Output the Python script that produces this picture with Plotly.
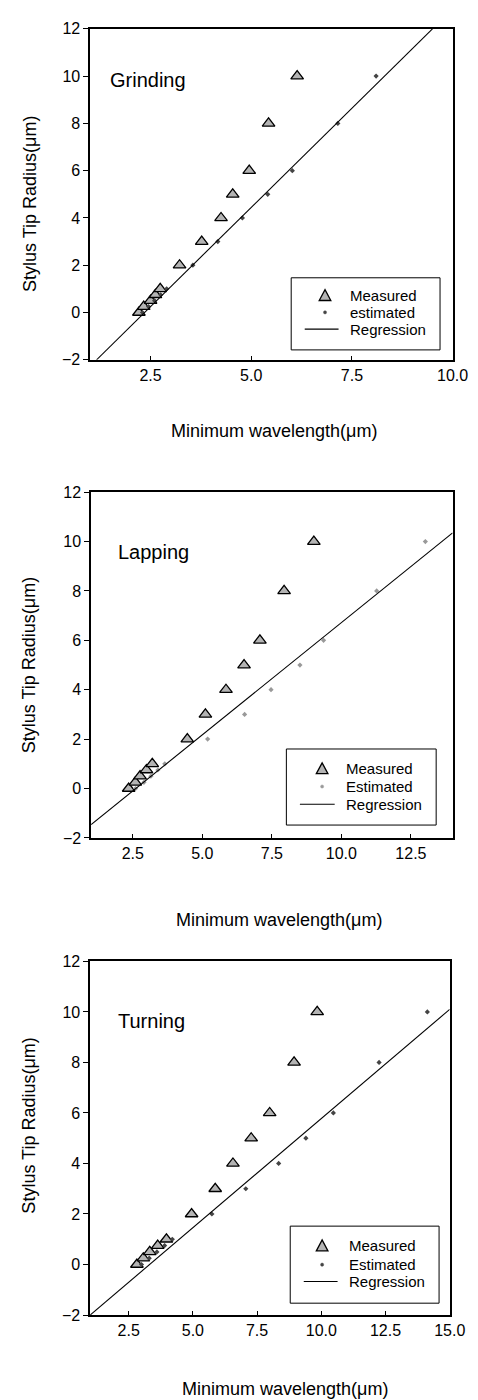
import plotly.graph_objects as go

W, H = 478, 1400
FONT = "Liberation Sans, Arial, Helvetica, sans-serif"

# ---- data ----
radius_levels = [0, 0.25, 0.5, 0.75, 1, 2, 3, 4, 5, 6, 8, 10]

grinding_measured_x = [2.21, 2.33, 2.50, 2.62, 2.74, 3.22, 3.77, 4.25, 4.54, 4.95, 5.43, 6.14]
grinding_estimated_x = [2.30, 2.45, 2.60, 2.75, 2.90, 3.55, 4.17, 4.78, 5.41, 6.02, 7.15, 8.10]
grinding_reg_x = [1.16, 9.50]
grinding_reg_y = [-2.0, 12.0]

lapping_measured_x = [2.35, 2.59, 2.76, 2.99, 3.20, 4.46, 5.11, 5.85, 6.50, 7.07, 7.94, 9.01]
lapping_estimated_x = [2.60, 2.90, 3.15, 3.40, 3.65, 5.19, 6.52, 7.47, 8.51, 9.36, 11.27, 13.02]
lapping_reg_x = [1.0, 14.0]
lapping_reg_y = [-1.46, 10.35]

turning_measured_x = [2.82, 3.07, 3.32, 3.63, 3.97, 4.95, 5.87, 6.56, 7.27, 7.99, 8.94, 9.84]
turning_estimated_x = [3.00, 3.30, 3.60, 3.90, 4.20, 5.74, 7.06, 8.34, 9.40, 10.47, 12.25, 14.13]
turning_reg_x = [1.0, 15.0]
turning_reg_y = [-2.0, 10.1]

panel_names = ["Grinding", "Lapping", "Turning"]
legend_labels = [["Measured", "estimated", "Regression"],
                 ["Measured", "Estimated", "Regression"],
                 ["Measured", "Estimated", "Regression"]]
x_ranges = [[1, 10], [1, 14], [1, 15]]
x_ticks = [[2.5, 5.0, 7.5, 10.0], [2.5, 5.0, 7.5, 10.0, 12.5], [2.5, 5.0, 7.5, 10.0, 12.5, 15.0]]
y_ticks = [-2, 0, 2, 4, 6, 8, 10, 12]
y_range = [-2, 12]

x_title = "Minimum wavelength(μm)"
y_title = "Stylus Tip Radius(μm)"

# ---- layout geometry (pixels) ----
panels_px = [  # left, right, top, bottom
    (85, 460, 13, 348),
    (86, 460, 482, 832),
    (85, 457, 957, 1315),
]
legend_box_px = [(293, 447, 265, 338), (288, 443, 742, 819), (292, 446, 1225, 1303)]
# symbol centre x, text left x, entry rows y, regression line x0/x1
legend_items_px = [
    (328, 352, (283, 300, 317), (307, 342)),
    (325, 348, (762, 780, 798), (302, 338)),
    (325, 351, (1245, 1264, 1281), (306, 341)),
]
xtitle_px = [(275, 420), (280, 915), (287, 1390)]
ytitle_px = [(22, 190), (22, 657), (22, 1123)]
label_px = [(103, 65), (112, 543), (112, 1017)]
est_colors = ["#444444", "#999999", "#444444"]
TRI_FILL = "#b4b4b4"

def px_x(v):
    return v / W

def px_y(v):
    return 1 - v / H

fig = go.Figure()

measured_sets = [grinding_measured_x, lapping_measured_x, turning_measured_x]
estimated_sets = [grinding_estimated_x, lapping_estimated_x, turning_estimated_x]
reg_sets = [(grinding_reg_x, grinding_reg_y), (lapping_reg_x, lapping_reg_y), (turning_reg_x, turning_reg_y)]

layout_axes = {}
shapes = []
annotations = []
for i in range(3):
    sfx = "" if i == 0 else str(i + 1)
    xa, ya = "x" + sfx, "y" + sfx
    fig.add_trace(go.Scatter(
        x=measured_sets[i], y=radius_levels, mode="markers", name=legend_labels[i][0],
        xaxis=xa, yaxis=ya, showlegend=False,
        marker=dict(symbol="triangle-up", size=11, color=TRI_FILL,
                    line=dict(color="black", width=1.3))))
    fig.add_trace(go.Scatter(
        x=estimated_sets[i], y=radius_levels, mode="markers", name=legend_labels[i][1],
        xaxis=xa, yaxis=ya, showlegend=False,
        marker=dict(symbol="diamond", size=4, color=est_colors[i])))
    fig.add_trace(go.Scatter(
        x=reg_sets[i][0], y=reg_sets[i][1], mode="lines", name=legend_labels[i][2],
        xaxis=xa, yaxis=ya, showlegend=False,
        line=dict(color="black", width=1.1)))

    l, r, t, b = panels_px[i]
    layout_axes["xaxis" + sfx] = dict(
        domain=[px_x(l), px_x(r)], anchor=ya, range=x_ranges[i],
        tickvals=x_ticks[i], ticktext=[f"{v:.1f}" for v in x_ticks[i]],
        ticks="inside", ticklen=4, tickcolor="black", tickwidth=1,
        showline=True, linecolor="black", linewidth=1.5, mirror=True,
        showgrid=False, zeroline=False,
        tickfont=dict(family=FONT, size=16, color="black"))
    layout_axes["yaxis" + sfx] = dict(
        domain=[px_y(b), px_y(t)], anchor=xa, range=y_range,
        tickvals=y_ticks, ticks="outside", ticklen=5, tickcolor="black", tickwidth=1,
        showline=True, linecolor="black", linewidth=1.5, mirror=True,
        showgrid=False, zeroline=False,
        tickfont=dict(family=FONT, size=16, color="black"))

    # custom legend box
    bl, br, bt, bb = legend_box_px[i]
    shapes.append(dict(type="rect", xref="paper", yref="paper",
                       x0=px_x(bl), x1=px_x(br), y0=px_y(bb), y1=px_y(bt),
                       line=dict(color="black", width=1), fillcolor="white", layer="below"))
    sx, tx_left, rows, (lx0, lx1) = legend_items_px[i]
    # triangle symbol
    r0 = rows[0]
    tri = (f"M {px_x(sx - 6)},{px_y(r0 + 5)} L {px_x(sx + 6)},{px_y(r0 + 5)} "
           f"L {px_x(sx)},{px_y(r0 - 6)} Z")
    shapes.append(dict(type="path", xref="paper", yref="paper", path=tri,
                       fillcolor=TRI_FILL, line=dict(color="black", width=1.3)))
    # estimated dot
    r1 = rows[1]
    shapes.append(dict(type="circle", xref="paper", yref="paper",
                       x0=px_x(sx - 1.6), x1=px_x(sx + 1.6), y0=px_y(r1 + 1.6), y1=px_y(r1 - 1.6),
                       fillcolor=est_colors[i], line=dict(color=est_colors[i], width=0.5)))
    # regression line
    r2 = rows[2]
    shapes.append(dict(type="line", xref="paper", yref="paper",
                       x0=px_x(lx0), x1=px_x(lx1), y0=px_y(r2), y1=px_y(r2),
                       line=dict(color="black", width=1.1)))
    for lab, ry in zip(legend_labels[i], rows):
        annotations.append(dict(text=lab, x=px_x(tx_left), y=px_y(ry), xref="paper", yref="paper",
                                showarrow=False, xanchor="left", yanchor="middle",
                                font=dict(family=FONT, size=15, color="black")))

    tx, ty = xtitle_px[i]
    annotations.append(dict(text=x_title, x=px_x(tx), y=px_y(ty), xref="paper", yref="paper",
                            showarrow=False, xanchor="center", yanchor="middle",
                            font=dict(family=FONT, size=18, color="black")))
    yx, yy = ytitle_px[i]
    annotations.append(dict(text=y_title, x=px_x(yx), y=px_y(yy), xref="paper", yref="paper",
                            showarrow=False, xanchor="center", yanchor="middle", textangle=-90,
                            font=dict(family=FONT, size=18, color="black")))
    lx, ly = label_px[i]
    annotations.append(dict(text=panel_names[i], x=px_x(lx), y=px_y(ly), xref="paper", yref="paper",
                            showarrow=False, xanchor="left", yanchor="middle",
                            font=dict(family=FONT, size=20, color="black")))

fig.update_layout(
    width=W, height=H, margin=dict(l=0, r=0, t=0, b=0),
    paper_bgcolor="white", plot_bgcolor="white",
    showlegend=False, shapes=shapes, annotations=annotations,
    **layout_axes)

fig.write_html("out.html")
